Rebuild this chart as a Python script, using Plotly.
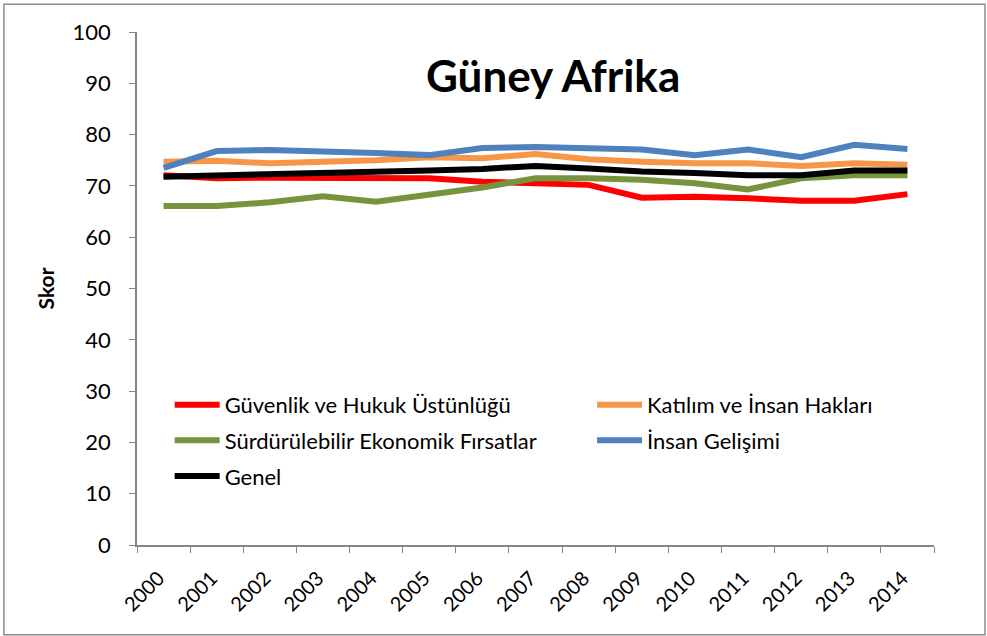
import plotly.graph_objects as go

years = [str(y) for y in range(2000, 2015)]

guvenlik = [72.1, 71.5, 71.6, 71.6, 71.6, 71.5, 70.8, 70.5, 70.2, 67.7, 67.9, 67.6, 67.1, 67.1, 68.4]
katilim = [74.7, 74.9, 74.4, 74.6, 75.0, 75.6, 75.4, 76.2, 75.2, 74.7, 74.4, 74.4, 73.9, 74.4, 74.1]
surdurulebilir = [66.1, 66.1, 66.8, 68.0, 66.9, 68.2, 69.7, 71.5, 71.5, 71.2, 70.5, 69.3, 71.5, 72.1, 72.1]
insan = [73.5, 76.8, 77.0, 76.8, 76.4, 76.0, 77.4, 77.6, 77.3, 77.1, 76.0, 77.1, 75.6, 78.0, 77.2]
genel = [71.8, 72.0, 72.3, 72.5, 72.6, 73.0, 73.3, 73.9, 73.4, 72.8, 72.5, 72.1, 72.1, 73.0, 73.0]

# name, values, colour, which legend column
series = [
    ("Güvenlik ve Hukuk Üstünlüğü", guvenlik, "#FF0000", "legend"),
    ("Katılım ve İnsan Hakları", katilim, "#F79646", "legend2"),
    ("Sürdürülebilir Ekonomik Fırsatlar", surdurulebilir, "#77933C", "legend"),
    ("İnsan Gelişimi", insan, "#4F81BD", "legend2"),
    ("Genel", genel, "#000000", "legend"),
]

font_family = "Lato, 'Open Sans', sans-serif"

fig = go.Figure()
for name, vals, color, leg in series:
    fig.add_trace(go.Scatter(
        x=years,
        y=vals,
        mode="lines",
        name=name,
        legend=leg,
        legendgroup=name,
        line=dict(color=color, width=6),
    ))

legend_style = dict(
    orientation="v",
    yanchor="top",
    xanchor="left",
    font=dict(size=22, family=font_family),
    bgcolor="rgba(0,0,0,0)",
    itemwidth=45,
    tracegroupgap=4,
)

fig.update_layout(
    width=987,
    height=636,
    margin=dict(l=137, r=53, t=32, b=91),
    paper_bgcolor="white",
    plot_bgcolor="white",
    font=dict(family=font_family, color="#000000"),
    showlegend=True,
    legend=dict(x=0.041, y=0.314, **legend_style),
    legend2=dict(x=0.571, y=0.314, **legend_style),
    annotations=[dict(
        text="<b>Güney Afrika</b>",
        xref="paper", yref="paper",
        x=0.522, y=0.916,
        yanchor="middle",
        showarrow=False,
        font=dict(size=44, family=font_family),
    )],
    shapes=[dict(
        type="rect",
        xref="paper", yref="paper",
        x0=-0.167, x1=1.064, y0=-0.175, y1=1.054,
        line=dict(color="#8c8c8c", width=1.5),
    )],
)

fig.update_xaxes(
    type="category",
    range=[-0.5, len(years) - 0.5],
    showgrid=False,
    showline=True,
    linecolor="#868686",
    linewidth=1.5,
    ticks="outside",
    tickson="boundaries",
    ticklen=6,
    tickcolor="#868686",
    tickangle=-45,
    ticklabelshift=-5,
    ticklabelstandoff=12,
    tickfont=dict(size=20, family=font_family),
)

fig.update_yaxes(
    range=[0, 100],
    dtick=10,
    showgrid=False,
    zeroline=False,
    showline=True,
    linecolor="#868686",
    linewidth=1.5,
    ticks="outside",
    ticklen=6,
    tickcolor="#868686",
    ticklabelstandoff=14,
    tickfont=dict(size=22, family=font_family),
    title=dict(text="<b>Skor</b>", font=dict(size=21, family=font_family), standoff=12),
)

fig.write_html("out.html", config={"displayModeBar": False},
               post_script="document.body.style.margin='0';")
